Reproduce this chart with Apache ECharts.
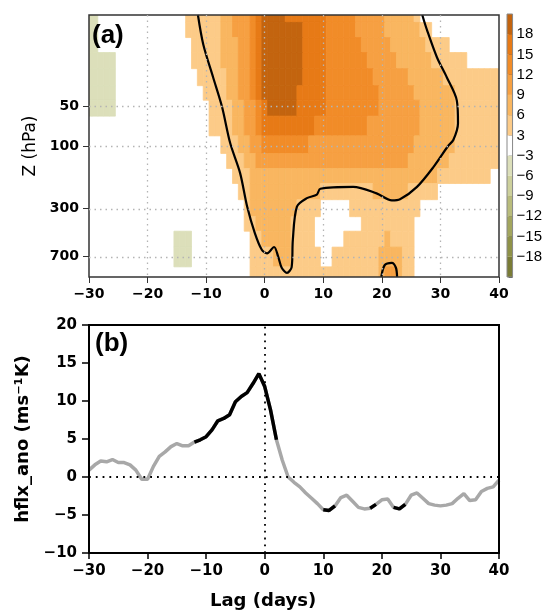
<!DOCTYPE html>
<html>
<head>
<meta charset="utf-8">
<script src="https://cdn.jsdelivr.net/npm/echarts@6/dist/echarts.min.js"></script>
<style>
    html, body { margin: 0; padding: 0; background: #fff; }
    #chart { width: 545px; height: 613px; }
</style>
</head>
<body>
<div id="chart"></div>
<script>
    "use strict";

    // lag axis (days), shared by both panels
    var lags = [-30,-29,-28,-27,-26,-25,-24,-23,-22,-21,-20,-19,-18,-17,-16,-15,-14,-13,-12,-11,
        -10,-9,-8,-7,-6,-5,-4,-3,-2,-1,0,1,2,3,4,5,6,7,8,9,10,11,12,13,14,15,16,17,18,19,20,
        21,22,23,24,25,26,27,28,29,30,31,32,33,34,35,36,37,38,39,40];

    // panel (a): pressure levels (hPa) and the field read per level, one value per lag
    var zLevels = [10, 13, 17, 22, 30, 40, 50, 70, 100, 130, 170, 220, 300, 400, 500, 700, 1000];
    var zTicks = [50, 100, 300, 700];

    var z10 = [-4,-4,
        0,0,0,0,0, 0,0,0,0,0, 0,0,0,0,0,
        4,4,4,4,4,4, 7,7, 10,10,10, 13, 16,
        19,19,19,19, 16,16,16,16,16,16,16,
        13,13,13,13,13, 10,10,10,10,10, 7,7,7,7,7, 4,
        0,0,0,0,0, 0,0,0,0,0, 0,0,0,0];
    var z13 = [-4,-4,
        0,0,0,0,0, 0,0,0,0,0, 0,0,0,0,0,
        4,4,4,4,4,4, 7,7, 10,10,10, 13, 16,
        19,19,19,19,19,19,19, 16,16,16,16,
        13,13,13,13,13, 10,10,10,10,10, 7,7,7,7,7,7, 4,4,
        0,0,0,0,0, 0,0,0,0,0, 0,0];
    var z17 = [-4,-4,
        0,0,0,0,0, 0,0,0,0,0, 0,0,0,0,0, 0,
        4,4,4,4,4, 7,7,7, 10,10, 13, 16,
        19,19,19,19,19,19,19, 16,16,16,16,
        13,13,13,13,13,13, 10,10,10,10,10, 7,7,7,7,7,7, 4,4,4,4,
        0,0,0,0,0, 0,0,0,0];
    var z22 = [-4,-4,-4,-4,-4,
        0,0,0,0,0, 0,0,0,0,0, 0,0,0,
        4,4,4,4,4, 7,7,7, 10,10, 13, 16,
        19,19,19,19,19,19,19, 16,16,16,16,
        13,13,13,13,13,13,13, 10,10,10,10,10, 7,7,7,7,7,7, 4,4,4,4,4,4,
        0,0,0,0,0,0];
    var z30 = [-4,-4,-4,-4,-4,
        0,0,0,0,0, 0,0,0,0,0, 0,0,0,0,
        4,4,4,4,4, 7,7, 10,10, 13, 16,
        19,19,19,19,19,19,19, 16,16,16,16,
        13,13,13,13,13,13,13,13, 10,10,10,10,10,10, 7,7,7,7,7,7,
        4,4,4,4,4, 4,4,4,4,4];
    var z40 = [-4,-4,-4,-4,-4,
        0,0,0,0,0, 0,0,0,0,0, 0,0,0,0,0,
        4,4,4,4, 7,7, 10,10, 13, 16,
        19,19,19,19,19,19, 16,16,16,16,16,
        13,13,13,13,13,13,13,13,13, 10,10,10,10,10,10, 7,7,7,7,7,7,7,
        4,4,4,4,4,4,4,4];
    var z50 = [-4,-4,-4,-4,-4,
        0,0,0,0,0, 0,0,0,0,0, 0,0,0,0,0, 0,
        4,4,4,4, 7,7, 10,10, 13, 16,
        19,19,19,19,19, 16,16,16,16,16,
        13,13,13,13,13,13,13,13,13, 10,10,10,10,10,10,10, 7,7,7,7,7,7,
        4,4,4,4,4,4,4,4];
    var z70 = [0,0,0,0,0, 0,0,0,0,0, 0,0,0,0,0, 0,0,0,0,0, 0,
        4,4,4,4, 7,7, 10,10, 13,
        16,16,16,16,16,16,16,16,16,
        13,13,13,13,13,13,13,13,13,
        10,10,10,10,10,10,10,10,10,
        7,7,7,7,7,7, 4,4,4,4,4,4,4,4];
    var z100 = [0,0,0,0,0, 0,0,0,0,0, 0,0,0,0,0, 0,0,0,0,0, 0,0,0,
        4,4,4, 7,7, 10,10,
        13,13,13,13,13,13,13,13,
        10,10,10,10,10,10,10,10,10, 10,10,10,10,10,10,10,10,10,
        7,7,7,7,7,7,7, 4,4,4,4,4,4,4,4];
    var z130 = [0,0,0,0,0, 0,0,0,0,0, 0,0,0,0,0, 0,0,0,0,0, 0,0,0,0,
        4,4,4, 7,7,
        10,10,10,10,10,10,10,10,10,10, 10,10,10,10,10,10,10,10,10,10, 10,10,10,10,10,10,
        7,7,7,7,7,7,7, 4,4,4,4,4,4,4,4,4];
    var z170 = [0,0,0,0,0, 0,0,0,0,0, 0,0,0,0,0, 0,0,0,0,0, 0,0,0,0,0,
        4,4,4,
        7,7,7,7,7,7,7,7,7,7, 7,7,7,7,7,7,7,7,7,7, 7,7,7,7,7,7,7,7,7,7, 7,7,
        4,4,4,4,4,4,4,4,4, 0,0];
    var z220 = [0,0,0,0,0, 0,0,0,0,0, 0,0,0,0,0, 0,0,0,0,0, 0,0,0,0,0, 0,
        4,4, 7,7,7,7,7,7,7,7,7,7,7,7,
        4,4,4,4,4,4,4,4,4, 7,7,7,7,7,7, 4,4,4,4,4,
        0,0,0,0,0,0,0,0,0,0,0];
    var z300 = [0,0,0,0,0, 0,0,0,0,0, 0,0,0,0,0, 0,0,0,0,0, 0,0,0,0,0, 0,0,
        4, 7,7,7,7,7,7,7,7, 4,4,4,4, 0,0,0,0,0,
        4,4,4,4,4,4,4,4,4,4,4,4,
        0,0,0,0,0,0,0,0,0,0,0,0,0,0];
    var z400 = [0,0,0,0,0, 0,0,0,0,0, 0,0,0,0,0, 0,0,0,0,0, 0,0,0,0,0, 0,0,
        4,4, 7,7,7,7,7,7, 4,4,4,4, 0,0,0,0,0,0,0,0,
        4,4,4,4,4,4,4,4,4,
        0,0,0,0,0,0,0,0,0,0,0,0,0,0,0];
    var z500 = [0,0,0,0,0, 0,0,0,0,0, 0,0,0,0,0,
        -4,-4,-4,
        0,0,0,0,0, 0,0,0,0,0,
        4,4, 7,7,7,7,7, 4,4,4,4, 0,0,0,0,0,
        4,4,4,4,4,4,4, 7, 4,4,4,4,
        0,0,0,0,0, 0,0,0,0,0, 0,0,0,0,0];
    var z700 = [0,0,0,0,0, 0,0,0,0,0, 0,0,0,0,0,
        -4,-4,-4,
        0,0,0,0,0, 0,0,0,0,0,
        4,4,4,4, 7,7,7, 4,4,4,4,4, 0,0,
        4,4,4,4,4,4,4,4, 7,7,7,7, 4,4,
        0,0,0,0,0, 0,0,0,0,0, 0,0,0,0,0];
    var z1000 = [0,0,0,0,0, 0,0,0,0,0, 0,0,0,0,0, 0,0,0,0,0, 0,0,0,0,0, 0,0,0,
        4,4,4,4,4,4,4,4,4,4, 4,4,4,4,4,4,4,4,4,4, 4,4,
        7, 10,10, 7, 4,4,
        0,0,0,0,0, 0,0,0,0,0, 0,0,0,0,0];
    var fieldRows = [z10, z13, z17, z22, z30, z40, z50, z70, z100, z130, z170, z220, z300, z400, z500, z700, z1000];

    // thick black contour of panel (a): [lag, hPa]
    var sigContourMain = [[-11.4,10],[-10.5,16.7],[-8.8,30],[-7.3,50],[-5.9,95],[-4.2,161],[-3,290],
        [-1.7,460],[-0.5,620],[0.4,660],[1.6,590],[2.3,700],[2.9,850],[3.8,930],[4.6,840],[4.8,520],
        [5.5,290],[7.2,250],[8.9,235],[9.5,212],[15.1,205],[19.1,230],[21.7,260],[23.1,255],[26,205],
        [28.8,145],[31.3,100],[32.2,90],[33,67],[32.8,45],[31.1,30],[29.4,21],[27.7,13],[26.9,10]];
    var sigContourLow = [[19.9,1000],[20.5,810],[21.7,780],[22.4,850],[22.6,1000]];

    // colour bar
    var contourLevels = [-18, -15, -12, -9, -6, -3, 3, 6, 9, 12, 15, 18];
    var bandColors = ['#7a7c36', '#8f9248', '#a3a65e', '#b9bc7c', '#cdd09c', '#dcdfba', '#ffffff',
        '#fccb88', '#f9b660', '#f6a042', '#f18c28', '#e77a16', '#c3640f'];

    // panel (b): hflx_ano per lag, and the significant stretches (black)
    var hflx = [0.9, 1.6, 2.1, 2.0, 2.3, 1.9, 1.9, 1.6, 0.9, -0.3,
        -0.3, 1.4, 2.7, 3.3, 4.0, 4.4, 4.1, 4.1, 4.6, 4.9,
        5.3, 6.2, 7.4, 7.7, 8.2, 9.9, 10.6, 11.1, 12.3, 13.6,
        11.9, 8.8, 4.9, 2.2, 0.0, -0.7, -1.3, -2.1, -2.8, -3.5,
        -4.3, -4.4, -3.8, -2.7, -2.4, -3.2, -4.0, -4.2, -4.1, -3.6,
        -3.0, -2.9, -4.0, -4.2, -3.6, -2.4, -2.1, -2.8, -3.5, -3.7,
        -3.8, -3.7, -3.5, -2.8, -2.2, -3.1, -3.0, -1.9, -1.5, -1.3,
        -0.4];
    var sigRanges = [[-12, 2], [10, 12], [18, 19], [22, 24]];

    function minusFmt(v) {
        return String(v).replace('-', '\u2212');
    }

    function bandIndex(v) {
        var k = 0;
        for (var i = 0; i < contourLevels.length; i++) {
            if (v >= contourLevels[i]) k = i + 1;
        }
        return k;
    }

    var fieldData = [];
    fieldRows.forEach(function (row, r) {
        row.forEach(function (v, i) {
            fieldData.push([lags[i], Math.log10(zLevels[r]), v, r]);
        });
    });

    function renderCell(params, api) {
        var v = api.value(2);
        var k = bandIndex(v);
        if (k === 6) return null; // white band
        var r = api.value(3);
        var n = zLevels.length;
        var pTop = r === 0 ? zLevels[0] : Math.sqrt(zLevels[r - 1] * zLevels[r]);
        var pBot = r === n - 1 ? zLevels[r] : Math.sqrt(zLevels[r] * zLevels[r + 1]);
        var a = api.coord([api.value(0) - 0.5, Math.log10(pTop)]);
        var b = api.coord([api.value(0) + 0.5, Math.log10(pBot)]);
        var c = bandColors[k];
        return {
            type: 'rect',
            shape: { x: a[0], y: a[1], width: b[0] - a[0], height: b[1] - a[1] },
            style: { fill: c, stroke: c, lineWidth: 0.8 }
        };
    }

    function renderBin(params, api) {
        var k = api.value(1);
        var a = api.coord([0, k + 1]);
        var b = api.coord([1, k]);
        return {
            type: 'rect',
            shape: { x: a[0], y: a[1], width: b[0] - a[0], height: b[1] - a[1] },
            style: { fill: bandColors[k] }
        };
    }

    var binData = bandColors.map(function (c, k) { return [0, k]; });

    var hflxData = lags.map(function (l, i) { return [l, hflx[i]]; });
    var sigData = lags.map(function (l, i) {
        var on = sigRanges.some(function (s) { return l >= s[0] && l <= s[1]; });
        return [l, on ? hflx[i] : null];
    });

    function toLogPairs(arr) {
        return arr.map(function (p) { return [p[0], Math.log10(p[1])]; });
    }

    var zTickVals = zTicks.map(function (p) { return Math.log10(p); });
    var tickFont = { fontFamily: 'DejaVu Sans', fontWeight: 'bold', color: '#000' };

    var gridLinesA = [-20, -10, 0, 10, 20, 30].map(function (x) { return { xAxis: x }; })
        .concat(zTickVals.map(function (y) { return { yAxis: y }; }));

    var chart = echarts.init(document.getElementById('chart'), null, { renderer: 'canvas' });
    chart.setOption({
        animation: false,
        backgroundColor: '#fff',
        textStyle: { fontFamily: 'DejaVu Sans' },
        grid: [
            { left: 89, top: 15, width: 410, height: 262, show: true, z: 5, backgroundColor: 'transparent', borderColor: '#333', borderWidth: 1.5 },
            { left: 89, top: 325, width: 410, height: 228, show: true, z: 5, backgroundColor: 'transparent', borderColor: '#000', borderWidth: 2 },
            { left: 507, top: 14, width: 8, height: 263, show: true, z: 5, backgroundColor: 'transparent', borderColor: '#888', borderWidth: 1 }
        ],
        xAxis: [
            {
                gridIndex: 0, type: 'value', min: -30, max: 40, interval: 10,
                axisLine: { show: false, onZero: false },
                axisTick: { length: 6, lineStyle: { color: '#333' } },
                axisLabel: Object.assign({ fontSize: 14, margin: 10, formatter: minusFmt }, tickFont),
                splitLine: { show: false }
            },
            {
                gridIndex: 1, type: 'value', min: -30, max: 40, interval: 10,
                axisLine: { show: false, onZero: false },
                axisTick: { length: 6, lineStyle: { color: '#000', width: 1.5 } },
                axisLabel: Object.assign({ fontSize: 15, margin: 11, formatter: minusFmt }, tickFont),
                splitLine: { show: false }
            },
            { gridIndex: 2, type: 'value', min: 0, max: 1, show: false }
        ],
        yAxis: [
            {
                gridIndex: 0, type: 'value', min: 1, max: 3, inverse: true,
                axisLine: { show: false, onZero: false },
                axisTick: { length: 6, customValues: zTickVals, lineStyle: { color: '#333' } },
                axisLabel: Object.assign({
                    fontSize: 14, margin: 10, customValues: zTickVals,
                    formatter: function (v) { return String(Math.round(Math.pow(10, v))); }
                }, tickFont),
                splitLine: { show: false },
                name: 'Z (hPa)', nameLocation: 'middle', nameGap: 50,
                nameTextStyle: { fontSize: 17, color: '#000', fontFamily: 'DejaVu Sans' }
            },
            {
                gridIndex: 1, type: 'value', min: -10, max: 20, interval: 5,
                axisLine: { show: false, onZero: false },
                axisTick: { length: 7, lineStyle: { color: '#000', width: 1.5 } },
                axisLabel: Object.assign({ fontSize: 15, margin: 12, formatter: minusFmt }, tickFont),
                splitLine: { show: false },
                name: 'hflx_ano (ms\u207B\u00B9K)', nameLocation: 'middle', nameGap: 50,
                nameTextStyle: { fontSize: 18, fontWeight: 'bold', color: '#000', fontFamily: 'DejaVu Sans' }
            },
            {
                gridIndex: 2, type: 'value', min: 0, max: 13, interval: 1, position: 'right',
                axisLine: { show: false, onZero: false },
                axisTick: { inside: true, length: 4, lineStyle: { color: '#555' } },
                axisLabel: {
                    margin: 4, fontSize: 15, fontFamily: 'Liberation Sans', color: '#000',
                    formatter: function (v) {
                        return (v >= 1 && v <= 12) ? minusFmt(contourLevels[v - 1]) : '';
                    }
                },
                splitLine: { show: false }
            }
        ],
        graphic: [
            { type: 'text', left: 92, top: 23, z: 20, style: { text: '(a)', font: 'bold 26px "Liberation Sans"', fill: '#000' } },
            { type: 'text', left: 95, top: 331, z: 20, style: { text: '(b)', font: 'bold 26px "Liberation Sans"', fill: '#000' } },
            { type: 'text', left: 210, top: 592, z: 20, style: { text: 'Lag (days)', font: 'bold 18px "DejaVu Sans"', fill: '#000' } }
        ],
        series: [
            {
                type: 'custom', xAxisIndex: 0, yAxisIndex: 0, silent: true, clip: true,
                renderItem: renderCell, data: fieldData, encode: { x: 0, y: 1 }
            },
            {
                type: 'line', xAxisIndex: 0, yAxisIndex: 0, silent: true, symbol: 'none', smooth: 0.3,
                data: toLogPairs(sigContourMain),
                lineStyle: { color: '#000', width: 2.2 },
                markLine: {
                    silent: true, symbol: 'none', label: { show: false },
                    lineStyle: { color: '#b4b4b4', width: 1.3, type: [1.5, 4] },
                    data: gridLinesA
                }
            },
            {
                type: 'line', xAxisIndex: 0, yAxisIndex: 0, silent: true, symbol: 'none', smooth: 0.3,
                data: toLogPairs(sigContourLow),
                lineStyle: { color: '#000', width: 2.2 }
            },
            {
                type: 'line', xAxisIndex: 1, yAxisIndex: 1, silent: true, symbol: 'none',
                data: hflxData,
                lineStyle: { color: '#a8a8a8', width: 3.5 },
                markLine: {
                    silent: true, symbol: 'none', label: { show: false },
                    lineStyle: { color: '#000', width: 1.8, type: [1.8, 5] },
                    data: [{ yAxis: 0 }, { xAxis: 0 }]
                }
            },
            {
                type: 'line', xAxisIndex: 1, yAxisIndex: 1, silent: true, symbol: 'none',
                data: sigData, connectNulls: false,
                lineStyle: { color: '#000', width: 3.5 }
            },
            {
                type: 'custom', xAxisIndex: 2, yAxisIndex: 2, silent: true,
                renderItem: renderBin, data: binData, encode: { x: 0, y: 1 }
            }
        ]
    });

    fieldRows.forEach(function (row, r) {
        if (row.length !== lags.length) throw new Error('row ' + zLevels[r] + ' has ' + row.length);
    });
</script>
</body>
</html>
